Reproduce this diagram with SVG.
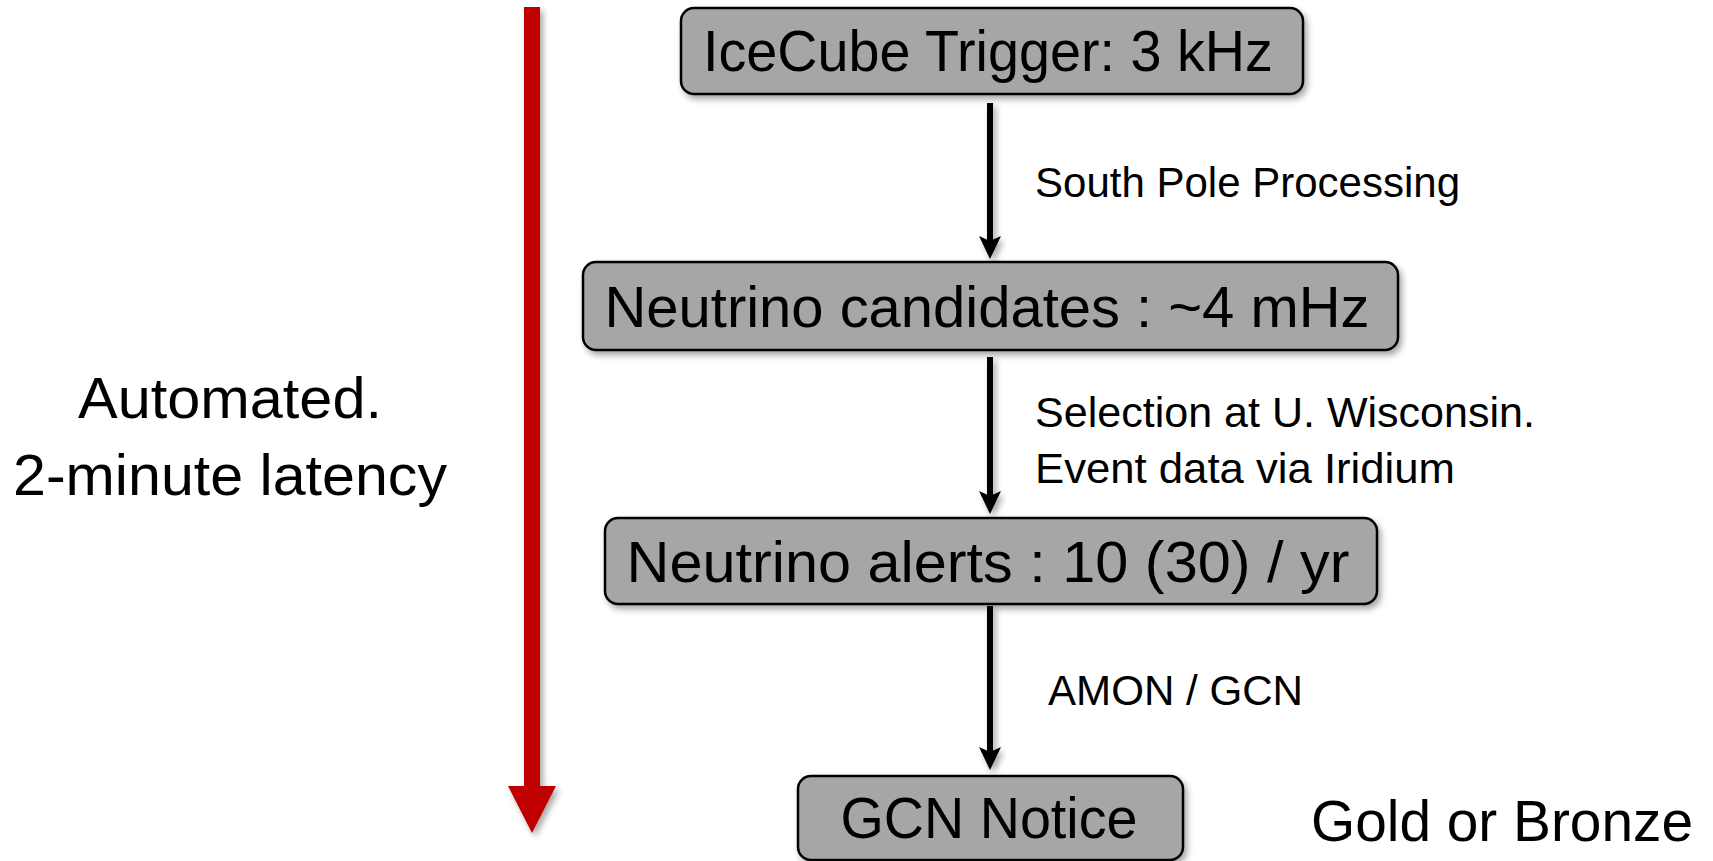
<svg xmlns="http://www.w3.org/2000/svg" width="1713" height="861" viewBox="0 0 1713 861">
<defs>
<style>
.box{fill:#A6A6A6;stroke:#000;stroke-width:2.5}
.bt{font-family:"Liberation Sans",Arial,sans-serif;font-size:57px;fill:#000;text-anchor:middle}
.lbl{font-family:"Liberation Sans",Arial,sans-serif;font-size:42px;fill:#000}
.big{font-family:"Liberation Sans",Arial,sans-serif;font-size:58px;fill:#000}
.conn{stroke:#000;stroke-width:6;fill:none}
.head{fill:#000}
</style>
<filter id="sh" x="-10%" y="-10%" width="130%" height="140%">
<feDropShadow dx="3" dy="4" stdDeviation="3" flood-color="#000" flood-opacity="0.35"/>
</filter>
</defs>
<rect width="1713" height="861" fill="#fff"/>

<g id="timeline" filter="url(#sh)">
<rect x="524" y="7" width="16" height="781" fill="#C00000"/>
<polygon points="508,786 556,786 532,833" fill="#C00000"/>
</g>

<g id="connectors" filter="url(#sh)">
<line class="conn" x1="990" y1="103" x2="990" y2="246"/>
<path class="head" d="M979,236 L990,259 L1001,236 L990,241 Z"/>
<line class="conn" x1="990" y1="357" x2="990" y2="501"/>
<path class="head" d="M979,491 L990,514 L1001,491 L990,496 Z"/>
<line class="conn" x1="990" y1="606" x2="990" y2="757"/>
<path class="head" d="M979,747 L990,770 L1001,747 L990,752 Z"/>
</g>

<g id="labels">
<text class="lbl" x="1035" y="197" textLength="425" lengthAdjust="spacingAndGlyphs">South Pole Processing</text>
<text class="lbl" x="1035" y="427" textLength="500" lengthAdjust="spacingAndGlyphs">Selection at U. Wisconsin.</text>
<text class="lbl" x="1035" y="483" textLength="420" lengthAdjust="spacingAndGlyphs">Event data via Iridium</text>
<text class="lbl" x="1048" y="705" textLength="255" lengthAdjust="spacingAndGlyphs">AMON / GCN</text>
</g>

<g id="node-trigger">
<rect class="box" x="681" y="8" width="622" height="86" rx="13" filter="url(#sh)"/>
<text class="bt" x="988" y="71" textLength="570" lengthAdjust="spacingAndGlyphs">IceCube Trigger: 3 kHz</text>
</g>

<g id="node-candidates">
<rect class="box" x="583" y="262" width="815" height="88" rx="13" filter="url(#sh)"/>
<text class="bt" x="987" y="327" textLength="765" lengthAdjust="spacingAndGlyphs">Neutrino candidates : ~4 mHz</text>
</g>

<g id="node-alerts">
<rect class="box" x="605" y="518" width="772" height="86" rx="13" filter="url(#sh)"/>
<text class="bt" x="988" y="582" textLength="723" lengthAdjust="spacingAndGlyphs">Neutrino alerts : 10 (30) / yr</text>
</g>

<g id="node-gcn">
<rect class="box" x="798" y="776" width="385" height="84" rx="13" filter="url(#sh)"/>
<text class="bt" x="989" y="838" textLength="297" lengthAdjust="spacingAndGlyphs">GCN Notice</text>
</g>

<g id="note-left">
<text class="big" x="230" y="418" text-anchor="middle" textLength="304" lengthAdjust="spacingAndGlyphs">Automated.</text>
<text class="big" x="230" y="495" text-anchor="middle" textLength="434" lengthAdjust="spacingAndGlyphs">2-minute latency</text>
</g>

<g id="note-right">
<text class="big" x="1311" y="841" textLength="382" lengthAdjust="spacingAndGlyphs">Gold or Bronze</text>
</g>
</svg>
